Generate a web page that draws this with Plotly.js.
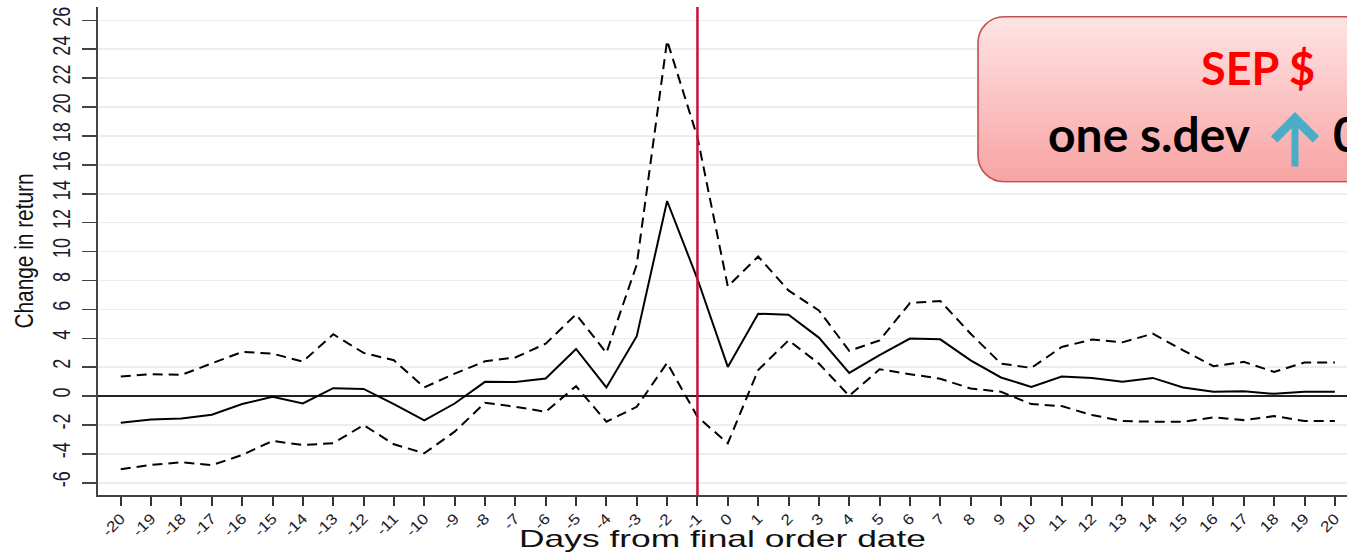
<!DOCTYPE html>
<html><head><meta charset="utf-8">
<script src="https://cdn.plot.ly/plotly-3.0.1.min.js"></script>
<style>
html,body{margin:0;padding:0;background:#fff}
#chart{width:1347px;height:552px}
</style>
</head><body><div id="chart"></div>
<script>
// ---- data ----
const days = [-20,-19,-18,-17,-16,-15,-14,-13,-12,-11,-10,-9,-8,-7,-6,-5,-4,-3,-2,-1,0,1,2,3,4,5,6,7,8,9,10,11,12,13,14,15,16,17,18,19,20];
const dayLabels = days.map(d => String(d));
const estimate = [-1.84,-1.61,-1.54,-1.29,-0.55,-0.05,-0.51,0.55,0.50,-0.55,-1.68,-0.51,0.99,0.97,1.22,
  3.26,0.60,4.15,13.5,8.1,2.02,
  5.70,5.63,4.05,1.61,2.83,3.98,3.93,
  2.48,1.29,0.64,1.36,1.26,0.99,1.26,0.60,0.30,0.34,0.16,0.30,0.30];
const upperCI = [1.36,1.52,1.47,2.25,3.06,2.94,2.39,4.28,2.99,2.48,0.60,1.56,2.41,2.67,3.63,
  5.66,2.99,9.1,24.6,17.9,7.59,
  9.66,7.31,5.93,3.13,3.86,6.44,6.58,
  4.32,2.25,1.95,3.40,3.91,3.72,4.32,3.17,2.07,2.37,1.68,2.32,2.32];
const lowerCI = [-5.06,-4.76,-4.58,-4.78,-4.07,-3.10,-3.38,-3.26,-2.0,-3.33,-3.95,-2.46,-0.46,-0.74,-1.08,
  0.69,-1.77,-0.74,2.30,-1.43,-3.26,
  1.8,3.86,2.25,0.02,1.86,1.52,1.20,
  0.53,0.30,-0.55,-0.69,-1.31,-1.72,-1.77,-1.77,-1.47,-1.66,-1.38,-1.72,-1.72];
const yTicks = [-6,-4,-2,0,2,4,6,8,10,12,14,16,18,20,22,24,26];
const eventDay = -1;

// ---- geometry helpers (pixel -> paper) ----
const W=1347, H=552, L=98, R=0, T=7, B=57;
const pw = W-L-R, ph = H-T-B;
const px = x => (x-L)/pw;
const py = y => (H-B-y)/ph;

const sans = '"Liberation Sans", Arial, sans-serif';
const boxFont = 'Lato, "Open Sans", sans-serif';

const traces = [
  {x: days, y: upperCI, mode:'lines', line:{color:'#000', width:2, dash:'10px,6px'}, hoverinfo:'skip'},
  {x: days, y: lowerCI, mode:'lines', line:{color:'#000', width:2, dash:'10px,6px'}, hoverinfo:'skip'},
  {x: days, y: estimate, mode:'lines', line:{color:'#000', width:2}, hoverinfo:'skip'}
];

const boxW = 403, boxH = 167;
const svg = `<svg xmlns="http://www.w3.org/2000/svg" width="${boxW}" height="${boxH}" viewBox="0 0 ${boxW} ${boxH}">
<defs><linearGradient id="g" x1="0" y1="0" x2="0" y2="1"><stop offset="0" stop-color="#fee4e4"/><stop offset="1" stop-color="#f8a3a3"/></linearGradient></defs>
<rect x="1" y="1" width="${boxW-2}" height="${boxH-2}" rx="26" ry="26" fill="url(#g)" stroke="#c0504d" stroke-width="1.6"/></svg>`;
const boxSrc = 'data:image/svg+xml;charset=utf-8,' + encodeURIComponent(svg);

const layout = {
  width: W, height: H,
  margin: {l:L, r:R, t:T, b:B},
  paper_bgcolor:'#fff', plot_bgcolor:'#fff',
  showlegend:false,
  xaxis: {
    range:[-20.75, 20.4], tickvals: days, ticktext: dayLabels, tickangle:-45,
    ticks:'outside', ticklen:9, tickwidth:2, tickcolor:'#333',
    showline:true, linecolor:'#444', linewidth:2, showgrid:false, zeroline:false,
    tickfont:{family:sans, size:15, color:'#1a1a2a'},
    ticklabelstandoff:-2,
    title:{text:'Days from final order date', font:{family:sans, size:24, color:'#111'}, standoff:4},
    automargin:false
  },
  yaxis: {
    range:[-6.84, 26.92], tickvals: yTicks, ticktext: yTicks.map(String), tickangle:-90,
    ticks:'outside', ticklen:14, tickwidth:1.5, tickcolor:'#444',
    showline:true, linecolor:'#444', linewidth:2,
    showgrid:true, gridcolor:'#e7eff2', gridwidth:1.5,
    zeroline:true, zerolinecolor:'#222', zerolinewidth:1.5,
    tickfont:{family:sans, size:24, color:'#1a1a2a'},
    ticklabelstandoff:2,
    title:{text:'Change in return', font:{family:sans, size:25, color:'#111'}, standoff:8},
    automargin:false
  },
  shapes: [
    {type:'line', xref:'x', yref:'paper', x0:eventDay, x1:eventDay, y0:0, y1:1,
     line:{color:'#c8103a', width:2.5}, layer:'above'}
  ],
  images: [
    {source: boxSrc, xref:'paper', yref:'paper', x: px(977), y: py(15.7),
     sizex: boxW/pw, sizey: boxH/ph, xanchor:'left', yanchor:'top', sizing:'stretch', layer:'above'}
  ],
  annotations: [
    {text:'<b>SEP $</b>', xref:'paper', yref:'paper', x:px(1199), y:py(68), xanchor:'left', yanchor:'middle',
     showarrow:false, font:{family:boxFont, size:45, color:'#ff0000'}},
    {text:'<b>one s.dev</b>', xref:'paper', yref:'paper', x:px(1046), y:py(133), xanchor:'left', yanchor:'middle',
     showarrow:false, font:{family:boxFont, size:48, color:'#000'}},
    {text:'<b>0</b>', xref:'paper', yref:'paper', x:px(1331), y:py(133), xanchor:'left', yanchor:'middle',
     showarrow:false, font:{family:boxFont, size:48, color:'#000'}},
    {text:'', xref:'paper', yref:'paper', x:px(1295), y:py(112), ax:0, ay:56,
     showarrow:true, arrowhead:4, arrowsize:1.15, arrowwidth:7, arrowcolor:'#4bacc6'}
  ]
};

Plotly.newPlot('chart', traces, layout, {staticPlot:true, displayModeBar:false}).then(gd => {
  // reproduce the narrow / stretched typefaces of the original figure
  const fit = (sel, fn) => gd.querySelectorAll(sel).forEach(t => {
    const len = t.getComputedTextLength();
    if (!len) return;
    t.setAttribute('textLength', fn(len));
    t.setAttribute('lengthAdjust', 'spacingAndGlyphs');
  });
  fit('.ytick text', l => l * 0.75);
  fit('.xtick text', l => l * 1.15);
  fit('.ytitle', () => 155);
  fit('.xtitle', () => 407);
});
</script>
</body></html>
